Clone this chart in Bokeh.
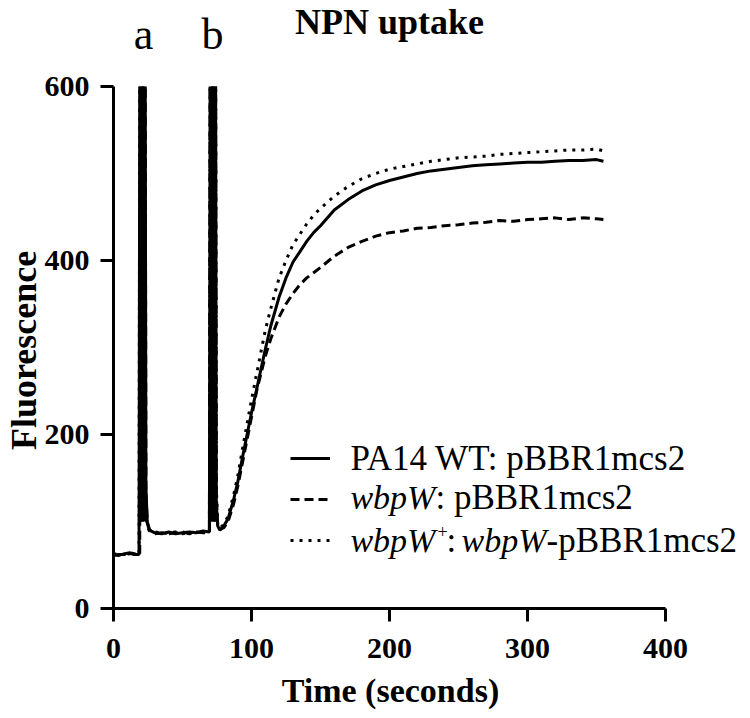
import math
from bokeh.plotting import figure
from bokeh.models import Range1d, Legend, LegendItem, Label, FixedTicker
from bokeh.embed import file_html
from bokeh.resources import INLINE

# ---------------- data ----------------
time_s = [0, 4, 8, 12, 15, 18.5,
          19, 19.5, 20, 20.5, 21, 21.5, 22, 22.5, 23, 23.5,
          24.5, 26, 30, 35, 40, 45, 50, 55, 60, 65, 69.5,
          70, 70.5, 71, 71.5, 72, 72.5, 73, 73.5, 74, 74.5,
          75.5, 77, 80, 83, 87, 90, 94, 100, 104, 110, 114, 120, 125, 130, 135, 140, 145, 150,
          160, 170, 180, 190, 200, 210, 220, 230, 240, 250, 260, 270, 280, 290, 300,
          310, 320, 330, 340, 350, 355]

wt_empty = [62, 61, 63, 64, 62, 62,
            600, 100, 600, 100, 600, 100, 600, 100, 600, 140,
            98, 90, 87, 86, 88, 86, 87, 88, 87, 89, 88,
            600, 100, 600, 100, 600, 100, 600, 100, 600, 120,
            95, 90, 95, 103, 125, 145, 178, 225, 254, 298, 325, 358, 380, 398, 410, 422, 432, 440,
            458, 470, 480, 487, 492, 496, 500, 503, 505, 507, 509, 510, 511, 512, 513,
            513, 514, 515, 515, 516, 514]

wbpw_empty = [61, 62, 62, 63, 63, 61,
              62, 600, 100, 600, 100, 600, 100, 600, 600, 130,
              100, 91, 86, 87, 86, 87, 88, 86, 88, 87, 87,
              600, 100, 600, 100, 600, 100, 600, 100, 600, 130,
              96, 91, 93, 100, 120, 140, 172, 220, 252, 290, 310, 335, 350, 362, 372, 380, 386, 392,
              405, 415, 422, 428, 432, 434, 437, 438, 440, 441, 443, 444, 446, 445, 447,
              448, 449, 447, 449, 448, 447]

wbpw_compl = [63, 62, 62, 64, 63, 63,
              600, 600, 100, 600, 100, 600, 100, 600, 150, 110,
              95, 89, 88, 86, 87, 88, 86, 87, 88, 88, 89,
              600, 600, 100, 600, 100, 600, 100, 600, 600, 140,
              97, 92, 97, 106, 130, 152, 188, 240, 272, 320, 345, 380, 400, 418, 430, 442, 452, 460,
              474, 485, 494, 500, 505, 508, 511, 514, 516, 518, 519, 520, 522, 523, 524,
              525, 526, 527, 527, 528, 526]

x_ticks = [0, 100, 200, 300, 400]
y_ticks = [0, 200, 400, 600]
title_text = "NPN uptake"
x_title = "Time (seconds)"
y_title = "Fluorescence"
marks = [("a", 21.7), ("b", 71.7)]

FONT = "Liberation Serif"

# frame covers the whole canvas; axes are pinned at data zero
p = figure(width=748, height=716, output_backend="svg", toolbar_location=None,
           x_range=Range1d(-81.884, 460.145), y_range=Range1d(-124.138, 698.851),
           min_border=0, min_border_left=0, min_border_right=0,
           min_border_top=0, min_border_bottom=0)
p.outline_line_color = None
p.xgrid.visible = False
p.ygrid.visible = False
p.background_fill_color = "white"

for ax, ticks in ((p.xaxis[0], x_ticks), (p.yaxis[0], y_ticks)):
    ax.fixed_location = 0
    ax.ticker = FixedTicker(ticks=ticks)
    ax.axis_line_width = 3
    ax.axis_line_color = "black"
    ax.major_tick_line_width = 3
    ax.major_tick_line_color = "black"
    ax.major_tick_in = 0
    ax.major_tick_out = 13
    ax.minor_tick_line_color = None
    ax.major_label_text_font = FONT
    ax.major_label_text_font_style = "bold"
    ax.major_label_text_font_size = "30px"
    ax.major_label_text_color = "black"

p.xaxis[0].bounds = (-7, 400)
p.yaxis[0].bounds = (-8, 600)
p.xaxis[0].major_label_standoff = 17
p.yaxis[0].major_label_standoff = 11

r1 = p.line(time_s, wt_empty, line_color="black", line_width=3)
r2 = p.line(time_s, wbpw_empty, line_color="black", line_width=3, line_dash="9 5")
r3 = p.line(time_s, wbpw_compl, line_color="black", line_width=3, line_dash="3 6")

legend = Legend(items=[LegendItem(label=" ", renderers=[r1]),
                       LegendItem(label=" ", renderers=[r2]),
                       LegendItem(label=" ", renderers=[r3])],
                location=(290, 160), glyph_width=40, glyph_height=32, label_height=32,
                label_width=1, spacing=9, padding=0, margin=0,
                border_line_color=None, background_fill_alpha=0,
                label_text_font_size="2px")
p.add_layout(legend, "center")

def lab(x, y, t, style="normal", size="35px", align="left", baseline="middle", angle=0.0):
    p.add_layout(Label(x=x, y=y, text=t, text_align=align, text_baseline=baseline,
                       angle=angle, text_font=FONT, text_font_style=style,
                       text_font_size=size, text_color="black"))

# title, axis titles and injection marks
lab(200, 673.6, title_text, style="bold", size="36px", align="center")
lab(200.7, -94.3, x_title, style="bold", size="34px", align="center")
lab(-64.5, 296.6, y_title, style="bold", size="36px", align="center", angle=math.pi / 2)
for txt, xm in marks:
    lab(xm, 659.8, txt, size="44px", align="center")

# legend texts (mixed italic)
lab(171.7, 172.4, "PA14 WT: pBBR1mcs2")
lab(171.7, 127.6, "wbpW", "italic", size="34px")
lab(233.3, 127.6, ": pBBR1mcs2")
lab(171.7, 78.2, "wbpW", "italic", size="34px")
lab(234.8, 88.5, "+", size="18px")
lab(241.3, 78.2, ":")
lab(252.2, 78.2, "wbpW", "italic", size="34px")
lab(313.8, 78.2, "-pBBR1mcs2")

open("out.html", "w").write(file_html(p, INLINE))
